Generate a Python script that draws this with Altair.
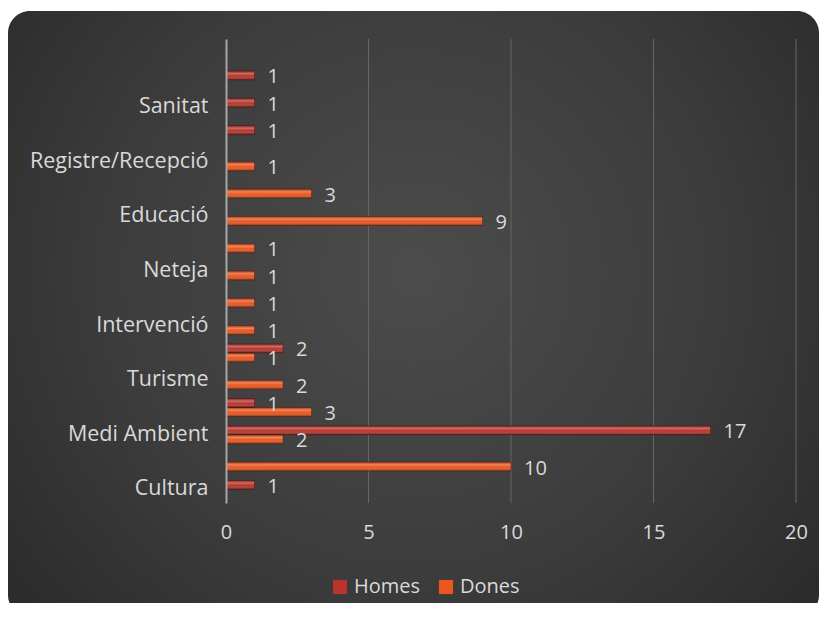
import json
import altair as alt
import pandas as pd

# ---- data ----
cat_labels = ["Cultura", "", "Medi Ambient", "", "Turisme", "", "Intervenció", "",
              "Neteja", "", "Educació", "", "Registre/Recepció", "", "Sanitat", "", ""]
homes = [1, None, 17, 1, None, 2, None, None, None, None, None, None, None, 1, 1, 1, None]
dones = [None, 10, 2, 3, 2, 1, 1, 1, 1, 1, 9, 3, 1, None, None, None, None]
series = ["Homes", "Dones"]
series_colors = ["#B8342C", "#EA561E"]
x_ticks = [0, 5, 10, 15, 20]

rows = []
for i in range(len(cat_labels)):
    for s, vals in (("Homes", homes), ("Dones", dones)):
        v = vals[i]
        if v is not None:
            rows.append({"idx": i, "serie": s, "value": v})
df = pd.DataFrame(rows)

FONT = "Open Sans"
FS = 20
TXT = "#D9D9D9"
W, H = 570, 464
PAD = {"left": 218, "top": 31, "right": 23, "bottom": 100}

label_expr = json.dumps(cat_labels) + "[datum.value]"

x_enc = alt.X("value:Q", scale=alt.Scale(domain=[0, 20], nice=False, zero=True),
              axis=alt.Axis(values=x_ticks, grid=False, ticks=False, domain=False,
                            labelFlush=False, labelPadding=19, labelFontSize=FS,
                            labelFont=FONT, labelColor=TXT, title=None, zindex=1))
y_enc = alt.Y("idx:O",
              scale=alt.Scale(domain=list(range(len(cat_labels) - 1, -1, -1)),
                              paddingInner=0.34, paddingOuter=0.17),
              axis=alt.Axis(labelExpr=label_expr, ticks=False, domain=True,
                            domainColor="#A6A6A6", domainWidth=2,
                            labelPadding=18, labelFontSize=21.5, labelFont=FONT,
                            labelColor=TXT, title=None, grid=False, zindex=1))
yoff = alt.YOffset("serie:N", scale=alt.Scale(domain=series, paddingInner=0, paddingOuter=0))

bg = alt.Chart(pd.DataFrame({"a": [0]})).mark_rect(
    cornerRadius=22,
    fill=alt.Gradient(gradient="radial",
                      stops=[alt.GradientStop(color="#4C4C4C", offset=0),
                             alt.GradientStop(color="#3C3C3C", offset=0.5),
                             alt.GradientStop(color="#242424", offset=1)],
                      x1=0.5, y1=0.45, x2=0.5, y2=0.45, r1=0, r2=0.75),
).encode(x=alt.value(-218), x2=alt.value(593), y=alt.value(-28), y2=alt.value(578))

grid = alt.Chart(pd.DataFrame({"t": x_ticks[1:]})).mark_rule(
    color="#666666", strokeWidth=1).encode(
    x=alt.X("t:Q"), y=alt.value(0), y2=alt.value(H))

bars = alt.Chart(df).mark_bar().encode(
    x=x_enc, y=y_enc, yOffset=yoff,
    color=alt.Color("serie:N", scale=alt.Scale(domain=series, range=series_colors),
                    legend=alt.Legend(title=None, orient="none", direction="horizontal",
                                      legendX=104, legendY=538, symbolType="square",
                                      symbolSize=200, symbolStrokeWidth=0,
                                      labelFontSize=FS, labelFont=FONT, labelColor=TXT,
                                      columnPadding=15, labelOffset=4, zindex=2)),
)

shine = alt.Chart(df).mark_bar(
    fill=alt.Gradient(gradient="linear",
                      stops=[alt.GradientStop(color="rgba(0,0,0,0.30)", offset=0),
                             alt.GradientStop(color="rgba(255,255,255,0.28)", offset=0.3),
                             alt.GradientStop(color="rgba(255,255,255,0.0)", offset=0.55),
                             alt.GradientStop(color="rgba(0,0,0,0.45)", offset=1)],
                      x1=0, y1=0, x2=0, y2=1),
    stroke="rgba(60,10,5,0.6)", strokeWidth=0.6,
).encode(x="value:Q", y="idx:O", yOffset="serie:N")

labels = alt.Chart(df).mark_text(
    align="left", baseline="middle", dx=13, dy=2, font=FONT, fontSize=FS, color=TXT
).encode(x="value:Q", y="idx:O", yOffset="serie:N", text="value:Q")

chart = alt.layer(bg, grid, bars, shine, labels).properties(
    width=W, height=H,
    autosize=alt.AutoSizeParams(type="none"),
    padding=PAD,
    background="white",
).configure_view(stroke=None)

chart.save("out.html", embed_options={"renderer": "svg", "actions": False})
